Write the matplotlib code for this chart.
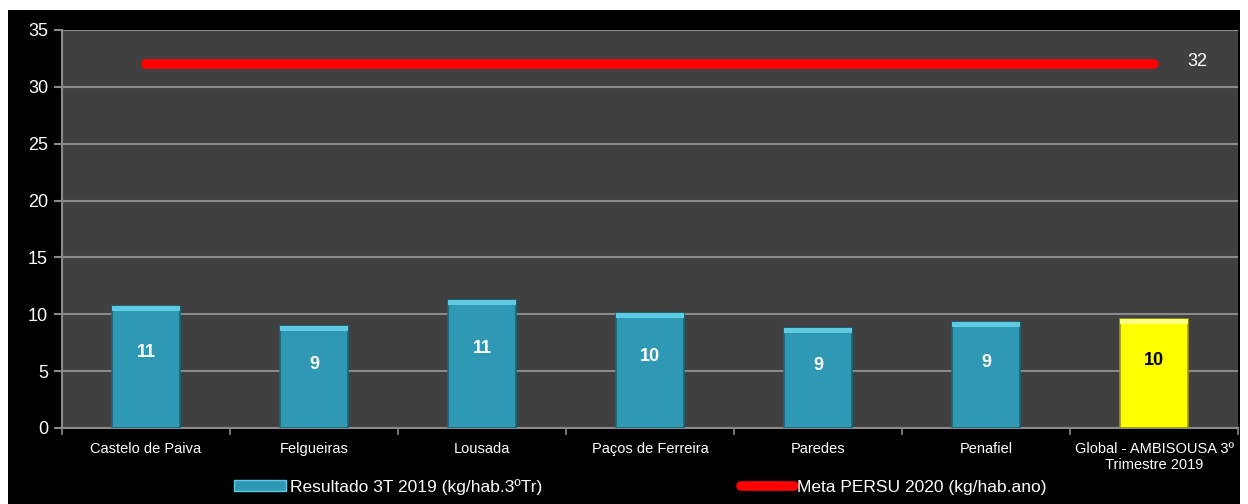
import numpy as np
import matplotlib.pyplot as plt
from matplotlib.patches import Rectangle
from matplotlib.lines import Line2D
from matplotlib.patches import Patch

plt.rcParams['font.family'] = ['Liberation Sans Narrow', 'Liberation Sans', 'DejaVu Sans']

categories = ['Castelo de Paiva', 'Felgueiras', 'Lousada', 'Paços de Ferreira',
              'Paredes', 'Penafiel', 'Global - AMBISOUSA 3º\nTrimestre 2019']
values = [10.7, 9.0, 11.3, 10.1, 8.8, 9.3, 9.6]
labels = ['11', '9', '11', '10', '9', '9', '10']
meta = 32
meta_label = '32'

fig = plt.figure(figsize=(12.48, 5.04), dpi=100)
fig.patch.set_facecolor('white')
fig.patches.append(Rectangle((8 / 1248, 0), 1232 / 1248, 494 / 504,
                             transform=fig.transFigure, facecolor='black',
                             edgecolor='none', zorder=-10))

ax = fig.add_axes([62 / 1248, 1 - 428 / 504, 1176 / 1248, 398 / 504])
ax.set_facecolor('#404040')

x = np.arange(len(categories))
colors = ['#2f98b4'] * (len(categories) - 1) + ['#ffff00']
edges = ['#1c6678'] * (len(categories) - 1) + ['#9a9a00']
bars = ax.bar(x, values, width=0.4, color=colors, edgecolor=edges, linewidth=1.2, zorder=3)

# lighter bevel on top of each bar
for b, c in zip(bars, ['#5fcbe3'] * (len(categories) - 1) + ['#ffff80']):
    ax.add_patch(Rectangle((b.get_x(), b.get_height() - 0.45), b.get_width(), 0.45,
                           facecolor=c, edgecolor='none', zorder=4))

for i, (v, lab) in enumerate(zip(values, labels)):
    col = 'black' if i == len(values) - 1 else 'white'
    ax.text(i, v * 0.62, lab, ha='center', va='center', color=col,
            fontsize=13, fontweight='bold', zorder=5)

ax.plot([x[0], x[-1]], [meta, meta], color='#ff0000', linewidth=7,
        solid_capstyle='round', zorder=4)
ax.text(x[-1] + 0.2, meta + 0.2, meta_label, color='white', fontsize=13,
        ha='left', va='center')

ax.set_xlim(-0.5, len(categories) - 0.5)
ax.set_ylim(0, 35)
ax.set_yticks(range(0, 36, 5))
ax.grid(axis='y', color='#8a8a8a', linewidth=1.5, zorder=0)
ax.set_axisbelow(True)

ax.set_xticks(x)
ax.set_xticklabels(categories, color='white', fontsize=10.5)
ax.set_xticks(np.arange(-0.5, len(categories), 1), minor=True)
ax.tick_params(axis='x', which='major', length=0, pad=10)
ax.tick_params(axis='x', which='minor', length=5, color='#8a8a8a', width=1.2)
ax.tick_params(axis='y', colors='white', labelsize=13, length=6, width=1.5, pad=4)
ax.tick_params(axis='y', color='#8a8a8a')

for s in ['top', 'right']:
    ax.spines[s].set_visible(False)
for s in ['left', 'bottom']:
    ax.spines[s].set_color('#8a8a8a')
    ax.spines[s].set_linewidth(1.5)

handles = [Patch(facecolor='#2f98b4', edgecolor='#5fcbe3'),
           Line2D([0], [0], color='#ff0000', linewidth=7, solid_capstyle='round')]
leg = fig.legend(handles, ['Resultado 3T 2019 (kg/hab.3ºTr)', 'Meta PERSU 2020 (kg/hab.ano)'],
                 loc='center', bbox_to_anchor=(0.513, 1 - 487 / 504), ncol=2,
                 frameon=False, fontsize=12.5, labelcolor='white', columnspacing=11.5,
                 handlelength=3.0, handletextpad=0.2, handleheight=0.6)

fig.savefig('out.png', dpi=100, facecolor=fig.get_facecolor())
